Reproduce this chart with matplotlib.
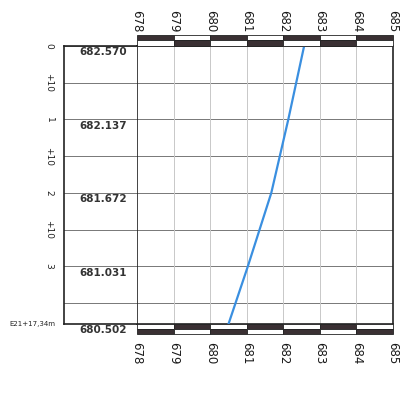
import matplotlib
matplotlib.use('Agg')
import matplotlib.pyplot as plt
from matplotlib.patches import Rectangle
from matplotlib.transforms import blended_transform_factory

# profile data: distance along axis (m) and ground elevation (m)
distancias = [0, 20, 40, 60, 75.7]
cotas = [682.570, 682.137, 681.672, 681.031, 680.502]
cotas_txt = ['682.570', '682.137', '681.672', '681.031', '680.502']
lineas_dist = [0, 10, 20, 30, 40, 50, 60, 70]
estacas = ['0', '+10', '1', '+10', '2', '+10', '3']
estaca_final = 'E21+17,34m'
cota_ticks = [678, 679, 680, 681, 682, 683, 684, 685]

d_fin = distancias[-1]
fig = plt.figure(figsize=(4.09, 4.07), dpi=100)
ax = fig.add_axes([137/409, 1-324/407, (393-137)/409, (324-46)/407])
axt = fig.add_axes([64/409, 1-324/407, (137-64)/409, (324-46)/407])

for a in (ax, axt):
    a.set_ylim(d_fin, 0)
    for d in lineas_dist:
        a.axhline(d, color='#777777', lw=0.7, zorder=1)

ax.set_xlim(cota_ticks[0], cota_ticks[-1])
for c in cota_ticks[1:-1]:
    ax.axvline(c, color='#c8c8c8', lw=0.7, zorder=1)

ax.plot(cotas, distancias, color='#3a8fe0', lw=1.6, zorder=3)

# checkered scale bands above and below the plot
for i, c in enumerate(cota_ticks[:-1]):
    par = i % 2 == 0
    for (y0, h, negro) in [(-3.0, 1.5, par), (-1.5, 1.5, not par),
                           (d_fin, 1.4, not par), (d_fin + 1.4, 1.4, par)]:
        ax.add_patch(Rectangle((c, y0), 1, h, facecolor='#3a3033' if negro else 'white',
                               edgecolor='#222222', lw=0.6, clip_on=False, zorder=4))

for s in ax.spines.values():
    s.set_linewidth(1.2)
    s.set_color('#222222')

ax.set_xticks(cota_ticks)
ax.set_xticklabels([str(c) for c in cota_ticks], rotation=270, fontsize=8.5, color='#1a1a1a')
ax.tick_params(axis='x', length=0, pad=13)
ax.set_yticks([])
top = ax.secondary_xaxis('top')
top.set_xticks(cota_ticks)
top.set_xticklabels([str(c) for c in cota_ticks], rotation=270, fontsize=8.5, color='#1a1a1a')
top.tick_params(axis='x', length=0, pad=10)
top.spines['top'].set_visible(False)

# left table with elevations and stations
axt.set_xlim(0, 1)
axt.set_xticks([])
axt.set_yticks([])
axt.spines['right'].set_visible(False)
for s in ['left', 'top', 'bottom']:
    axt.spines[s].set_linewidth(1.2)
    axt.spines[s].set_color('#222222')

tr = blended_transform_factory(axt.transAxes, axt.transData)
for d, txt in zip(distancias, cotas_txt):
    axt.text(0.534, d + 1.7, txt, transform=tr, ha='center', va='center',
             fontsize=7.5, fontweight='bold', color='#333333', clip_on=False)
for d, e in zip(lineas_dist, estacas):
    axt.text(-0.205, d, e, transform=tr, ha='center', va='center', rotation=270,
             fontsize=6.5, color='#222222', clip_on=False)
axt.text(-0.44, d_fin, estaca_final, transform=tr, ha='center', va='center',
         fontsize=5, color='#222222', clip_on=False)

fig.savefig('out.png', dpi=100)
